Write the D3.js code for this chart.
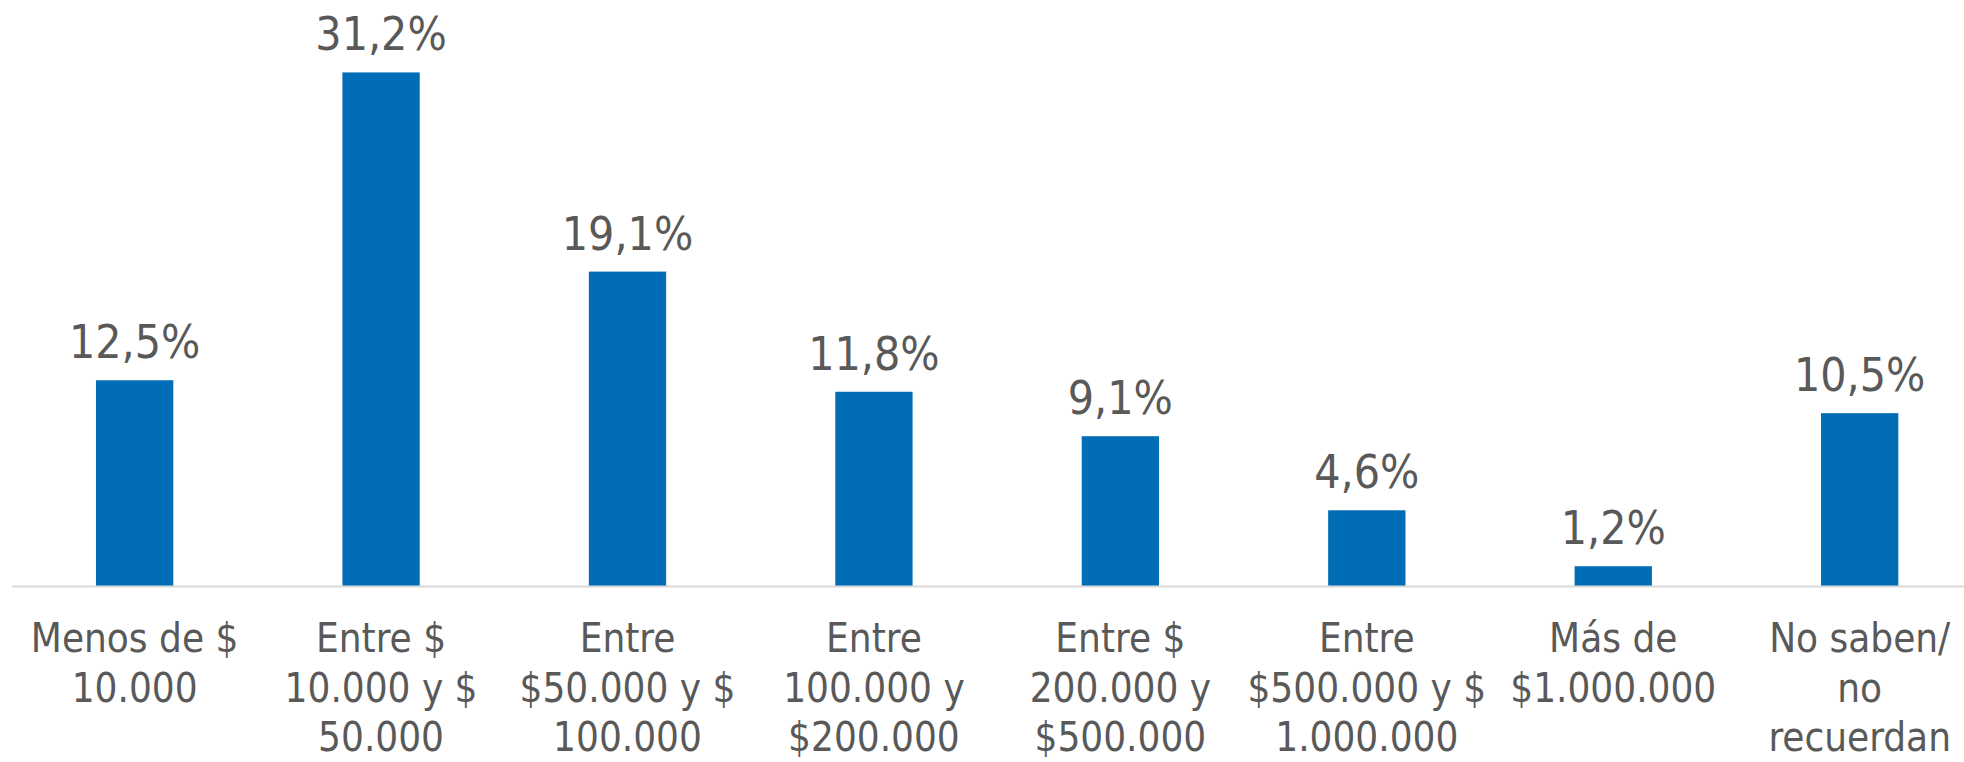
<!DOCTYPE html>
<html>
<head>
<meta charset="utf-8">
<script src="https://cdn.jsdelivr.net/npm/d3@7"></script>
<style>
  html, body { margin: 0; padding: 0; background: #ffffff; }
  svg { display: block; }
</style>
</head>
<body>
<svg id="chart" width="1964" height="762"></svg>
<script>
const categories = [
  "Menos de $ 10.000",
  "Entre $ 10.000 y $ 50.000",
  "Entre $50.000 y $ 100.000",
  "Entre 100.000 y $200.000",
  "Entre $ 200.000 y $500.000",
  "Entre $500.000 y $ 1.000.000",
  "Más de $1.000.000",
  "No saben/ no recuerdan"
];
const categoryLines = [
  ["Menos de $", "10.000"],
  ["Entre $", "10.000 y $", "50.000"],
  ["Entre", "$50.000 y $", "100.000"],
  ["Entre", "100.000 y", "$200.000"],
  ["Entre $", "200.000 y", "$500.000"],
  ["Entre", "$500.000 y $", "1.000.000"],
  ["Más de", "$1.000.000"],
  ["No saben/", "no", "recuerdan"]
];
const values = [12.5, 31.2, 19.1, 11.8, 9.1, 4.6, 1.2, 10.5];
const valueLabels = ["12,5%", "31,2%", "19,1%", "11,8%", "9,1%", "4,6%", "1,2%", "10,5%"];

const svg = d3.select("#chart");
const W = 1964, H = 762;
const baseY = 586;

const x = d3.scaleBand()
  .domain(categories)
  .range([11.4, 1982.9])
  .paddingInner(0.6863)
  .paddingOuter(0.34315);

const y = d3.scaleLinear()
  .domain([0, 35.6])
  .range([baseY, 0]);

const textColor = "#595959";
const barColor = "#006DB6";

// bars
svg.append("g").selectAll("rect")
  .data(values)
  .join("rect")
  .attr("x", (d, i) => x(categories[i]))
  .attr("y", d => y(d))
  .attr("width", x.bandwidth())
  .attr("height", d => y(0) - y(d))
  .attr("fill", barColor);

// axis line
const xAxis = d3.axisBottom(x).tickSize(0).tickFormat("");
const axisG = svg.append("g")
  .attr("transform", `translate(0,${baseY})`)
  .call(xAxis);
axisG.select(".domain")
  .attr("d", `M12,0.5H${W}`)
  .attr("stroke", "#d9d9d9")
  .attr("stroke-width", 2);

// category labels
const labelG = svg.append("g")
  .attr("font-family", "'DejaVu Sans Condensed', 'DejaVu Sans', sans-serif")
  .attr("font-size", 40)
  .attr("fill", textColor)
  .attr("text-anchor", "middle");

categories.forEach((c, i) => {
  const cx = x(c) + x.bandwidth() / 2;
  const t = labelG.append("text")
    .attr("x", cx)
    .attr("y", 652);
  categoryLines[i].forEach((line, j) => {
    t.append("tspan")
      .attr("x", cx)
      .attr("y", 652 + j * 49.5)
      .text(line);
  });
});

// value labels
svg.append("g")
  .attr("font-family", "'DejaVu Sans Condensed', 'DejaVu Sans', sans-serif")
  .attr("font-size", 46)
  .attr("fill", textColor)
  .attr("text-anchor", "middle")
  .selectAll("text")
  .data(values)
  .join("text")
  .attr("x", (d, i) => x(categories[i]) + x.bandwidth() / 2)
  .attr("y", d => y(d) - 22)
  .text((d, i) => valueLabels[i]);
</script>
</body>
</html>
